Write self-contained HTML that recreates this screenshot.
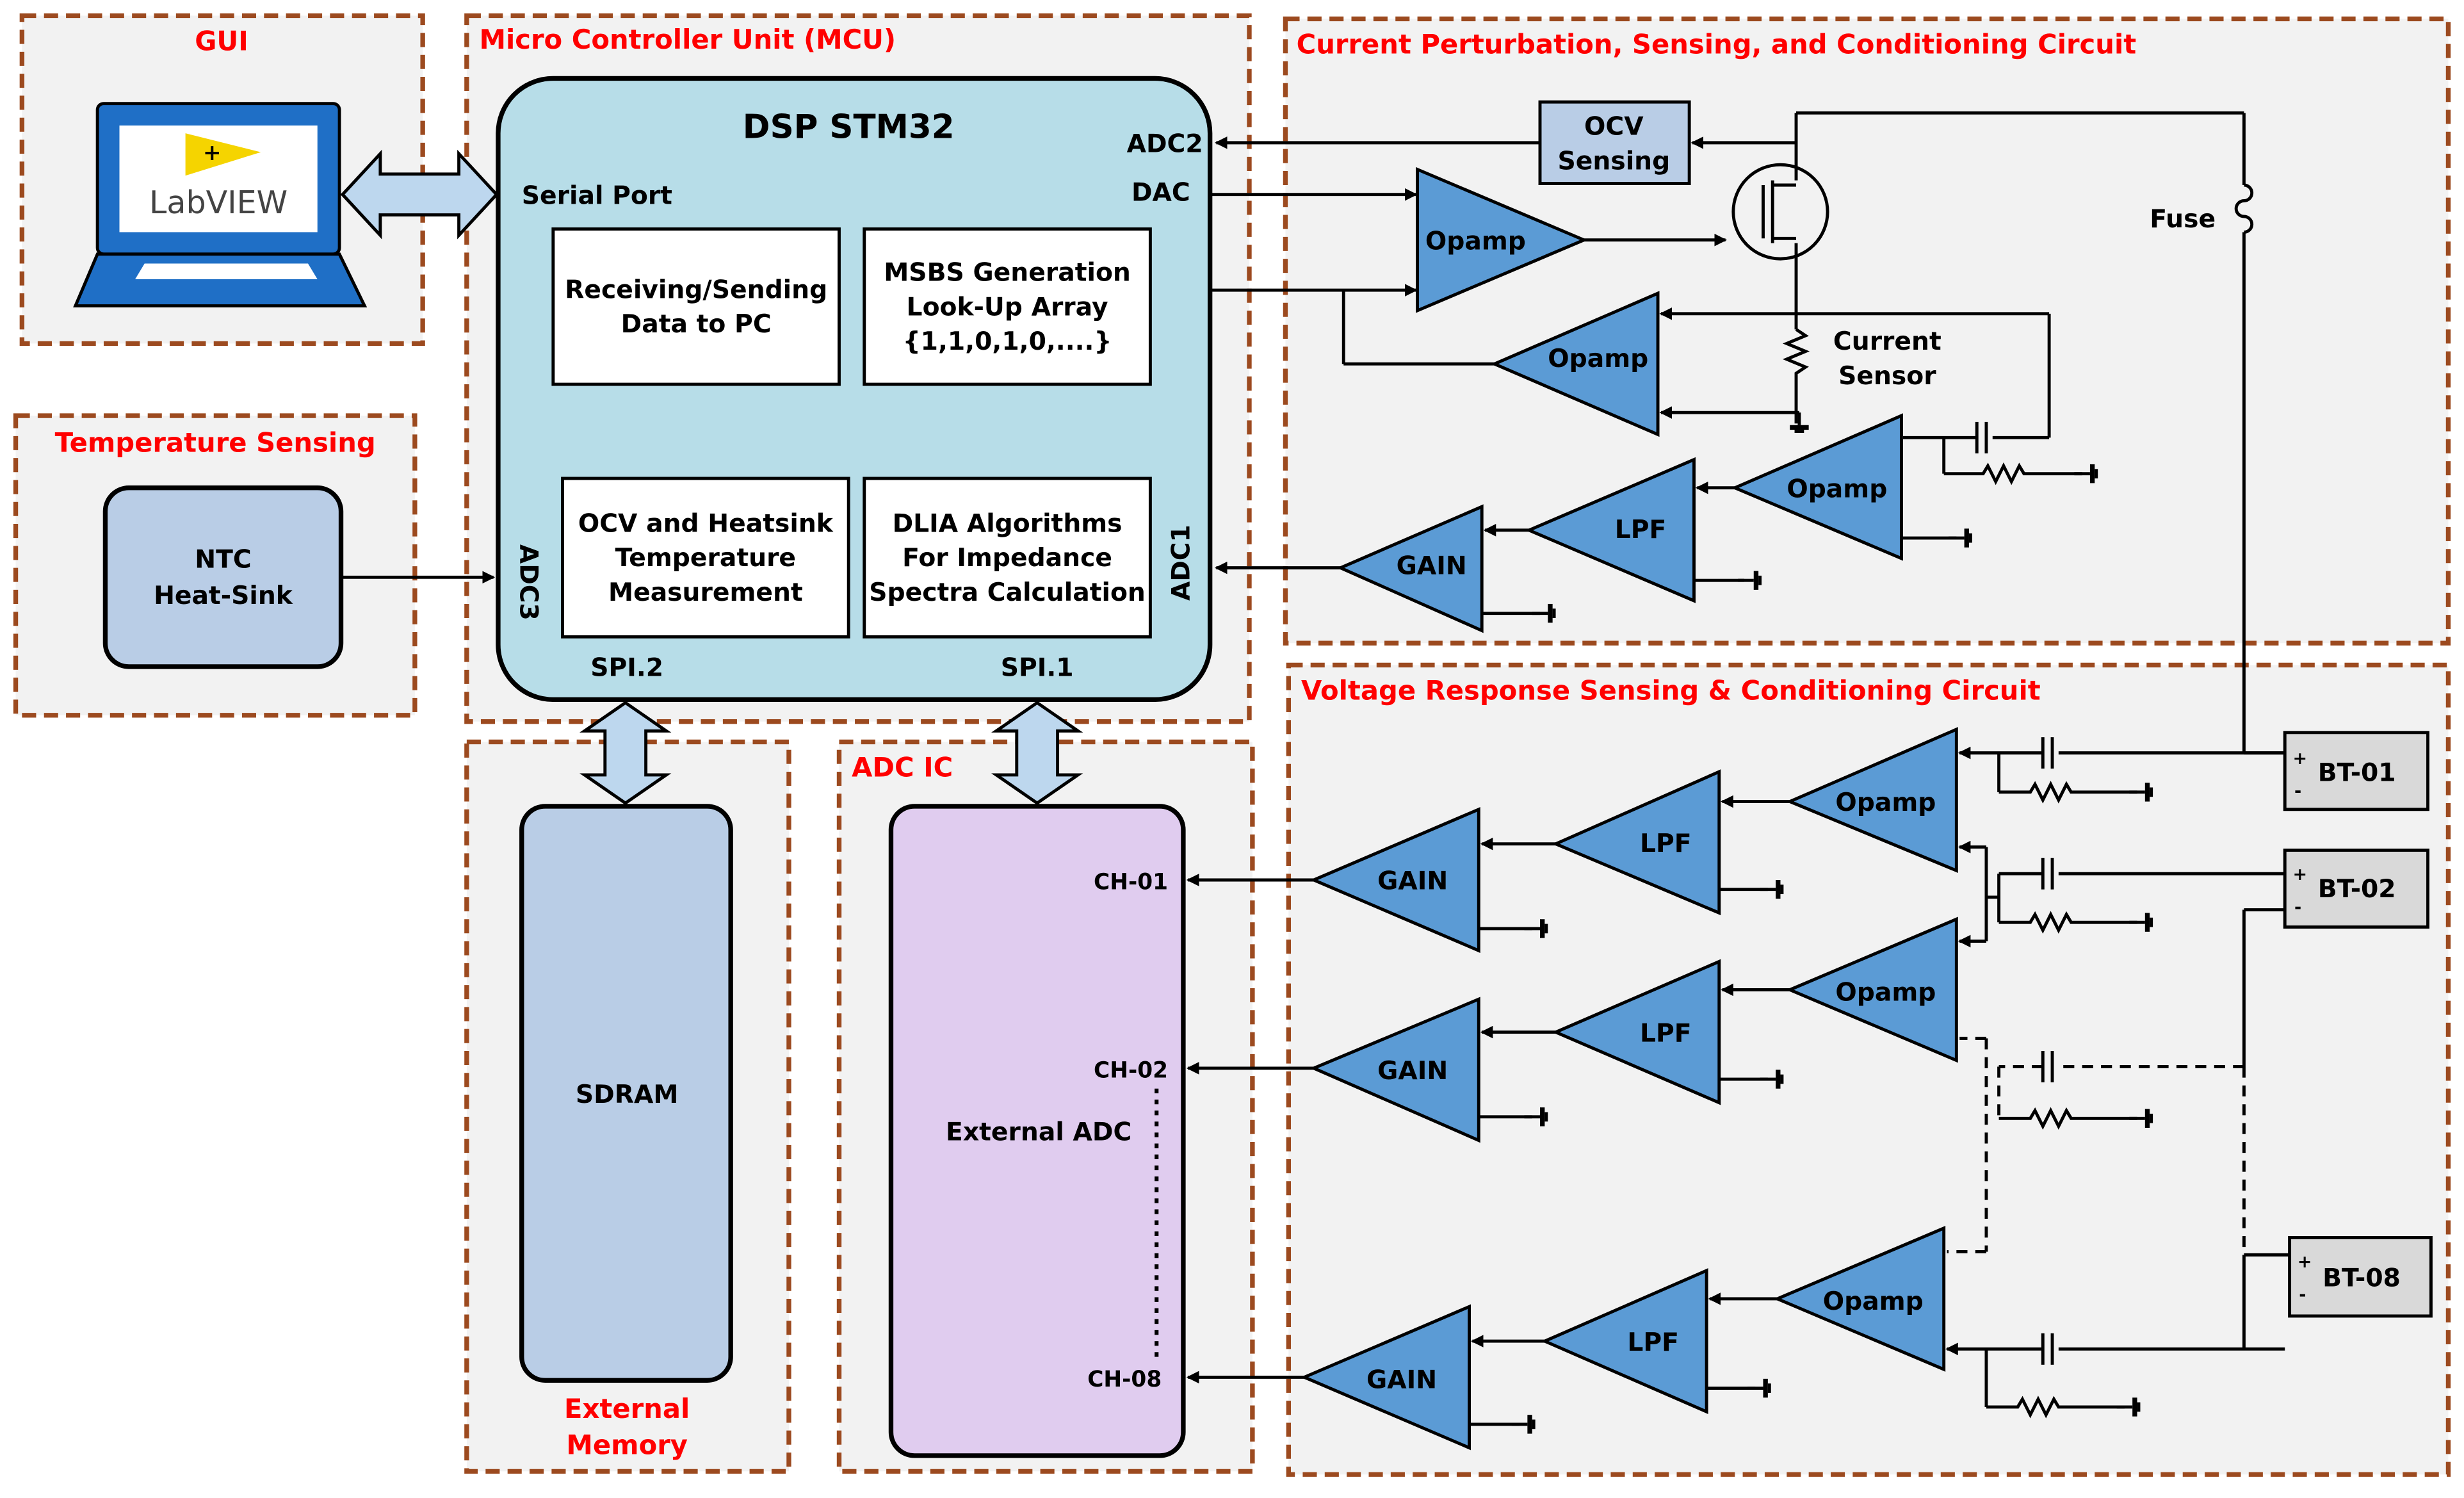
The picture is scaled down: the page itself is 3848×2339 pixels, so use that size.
<!DOCTYPE html>
<html><head><meta charset="utf-8"><style>
html,body{margin:0;padding:0;background:#fff}
svg{display:block}
text{font-family:"DejaVu Sans","Liberation Sans",sans-serif;font-weight:bold}
</style></head><body>
<svg width="3848" height="2339" viewBox="0 0 1568 955" preserveAspectRatio="none" xmlns="http://www.w3.org/2000/svg">
<defs>
<marker id="a" markerWidth="8" markerHeight="8" refX="7" refY="4" orient="auto" markerUnits="userSpaceOnUse"><path d="M0,0 L8,4 L0,8 z" fill="#000"/></marker>
<g id="gnd"><line x1="0" y1="0" x2="10" y2="0" stroke="#000" stroke-width="2"/><rect x="10" y="-6" width="3" height="12" fill="#000"/><rect x="13" y="-3" width="2" height="6" fill="#000"/></g>
<g id="gndv"><line x1="0" y1="0" x2="0" y2="8" stroke="#000" stroke-width="2"/><rect x="-6" y="8" width="12" height="3" fill="#000"/><rect x="-3" y="11" width="6" height="2" fill="#000"/></g>
</defs>
<rect width="1568" height="955" fill="#fff"/>
<g fill="#f2f2f2" stroke="#9c4a1f" stroke-width="3" stroke-dasharray="9,5">
<rect x="14" y="10" width="255" height="209"/>
<rect x="10" y="265" width="254" height="191"/>
<rect x="297" y="10" width="498" height="450"/>
<rect x="818" y="12" width="740" height="398"/>
<rect x="820" y="424" width="738" height="516"/>
<rect x="297" y="473" width="205" height="465"/>
<rect x="534" y="473" width="263" height="465"/>
</g>
<g fill="#ff0000" font-size="17">
<text x="141" y="32" text-anchor="middle">GUI</text>
<text x="137" y="288" text-anchor="middle">Temperature Sensing</text>
<text x="305" y="31">Micro Controller Unit (MCU)</text>
<text x="825" y="34">Current Perturbation, Sensing, and  Conditioning Circuit</text>
<text x="828" y="446">Voltage Response Sensing &amp; Conditioning Circuit</text>
<text x="542" y="495">ADC IC</text>
<text x="399" y="904" text-anchor="middle">External</text>
<text x="399" y="927" text-anchor="middle">Memory</text>
</g>
<rect x="62" y="66" width="154" height="96" rx="4" fill="#1f6fc6" stroke="#000" stroke-width="2"/>
<rect x="76" y="80" width="126" height="68" fill="#fff"/>
<path d="M118,85 L166,97 L118,112 z" fill="#f5d400"/>
<text x="135" y="102" font-size="14" text-anchor="middle">+</text>
<text x="139" y="136" font-size="20" text-anchor="middle" fill="#444" style="font-weight:normal">LabVIEW</text>
<path d="M62,162 L216,162 L232,195 L48,195 z" fill="#1f6fc6" stroke="#000" stroke-width="2"/>
<path d="M92,168 L196,168 L202,178 L86,178 z" fill="#fff"/>
<g fill="#bdd7ee" stroke="#000" stroke-width="2">
<path d="M218,124 L242,98 L242,111 L292,111 L292,98 L316,124 L292,150 L292,137 L242,137 L242,150 z"/>
<path d="M398,448 L424,466 L411,466 L411,494 L424,494 L398,512 L372,494 L385,494 L385,466 L372,466 z"/>
<path d="M660,448 L686,466 L673,466 L673,494 L686,494 L660,512 L634,494 L647,494 L647,466 L634,466 z"/>
</g>
<rect x="317" y="50" width="453" height="396" rx="35" fill="#b7dde8" stroke="#000" stroke-width="3"/>
<text x="540" y="88" font-size="21" text-anchor="middle">DSP STM32</text>
<g font-size="16">
<text x="332" y="130">Serial Port</text>
<text x="717" y="97">ADC2</text>
<text x="720" y="128">DAC</text>
<text x="399" y="431" text-anchor="middle">SPI.2</text>
<text x="660" y="431" text-anchor="middle">SPI.1</text>
<text transform="translate(331,347) rotate(90)">ADC3</text>
<text transform="translate(757,383) rotate(-90)">ADC1</text>
</g>
<g fill="#fff" stroke="#000" stroke-width="2">
<rect x="352" y="146" width="182" height="99"/>
<rect x="550" y="146" width="182" height="99"/>
<rect x="358" y="305" width="182" height="101"/>
<rect x="550" y="305" width="182" height="101"/>
</g>
<g font-size="16" text-anchor="middle">
<text x="443" y="190">Receiving/Sending</text><text x="443" y="212">Data to PC</text>
<text x="641" y="179">MSBS Generation</text><text x="641" y="201">Look-Up Array</text><text x="641" y="223">{1,1,0,1,0,....}</text>
<text x="449" y="339">OCV and Heatsink</text><text x="449" y="361">Temperature</text><text x="449" y="383">Measurement</text>
<text x="641" y="339">DLIA Algorithms</text><text x="641" y="361">For Impedance</text><text x="641" y="383">Spectra Calculation</text>
</g>
<rect x="67" y="311" width="150" height="114" rx="15" fill="#b9cde6" stroke="#000" stroke-width="3"/>
<text x="142" y="362" font-size="16" text-anchor="middle">NTC</text>
<text x="142" y="385" font-size="16" text-anchor="middle">Heat-Sink</text>
<line x1="217" y1="368" x2="314" y2="368" stroke="#000" stroke-width="2" marker-end="url(#a)"/>
<rect x="332" y="514" width="133" height="366" rx="15" fill="#b9cde6" stroke="#000" stroke-width="3"/>
<text x="399" y="703" font-size="16" text-anchor="middle">SDRAM</text>
<rect x="567" y="514" width="186" height="414" rx="15" fill="#e0ccef" stroke="#000" stroke-width="3"/>
<text x="661" y="727" font-size="16" text-anchor="middle">External ADC</text>
<g font-size="14">
<text x="696" y="567">CH-01</text><text x="696" y="687">CH-02</text><text x="692" y="884">CH-08</text>
</g>
<line x1="736" y1="694" x2="736" y2="866" stroke="#000" stroke-width="2.5" stroke-dasharray="3,4"/>
<rect x="980" y="65" width="95" height="52" fill="#b9cde6" stroke="#000" stroke-width="2"/>
<text x="1027" y="86" font-size="16" text-anchor="middle">OCV</text>
<text x="1027" y="108" font-size="16" text-anchor="middle">Sensing</text>
<g fill="#5b9bd5" stroke="#000" stroke-width="2">
<path d="M902,108 L902,198 L1008,153 z"/>
<path d="M1055,187 L1055,277 L951,232 z"/>
<path d="M1210,265 L1210,356 L1104,311 z"/>
<path d="M1078,293 L1078,383 L973,338 z"/>
<path d="M943,323 L943,402 L853,362 z"/>
<path d="M1245,465 L1245,555 L1139,511 z"/>
<path d="M1094,492 L1094,582 L990,538 z"/>
<path d="M941,516 L941,606 L836,561 z"/>
<path d="M1245,586 L1245,676 L1139,631 z"/>
<path d="M1094,613 L1094,703 L990,658 z"/>
<path d="M941,637 L941,727 L836,681 z"/>
<path d="M1237,783 L1237,873 L1131,828 z"/>
<path d="M1086,810 L1086,900 L983,855 z"/>
<path d="M935,833 L935,923 L830,878 z"/>
</g>
<g font-size="16" text-anchor="middle">
<text x="939" y="159">Opamp</text><text x="1017" y="234">Opamp</text><text x="1169" y="317">Opamp</text>
<text x="1044" y="343">LPF</text><text x="911" y="366">GAIN</text>
<text x="1200" y="517">Opamp</text><text x="1060" y="543">LPF</text><text x="899" y="567">GAIN</text>
<text x="1200" y="638">Opamp</text><text x="1060" y="664">LPF</text><text x="899" y="688">GAIN</text>
<text x="1192" y="835">Opamp</text><text x="1052" y="861">LPF</text><text x="892" y="885">GAIN</text>
<text x="1201" y="223">Current</text><text x="1201" y="245">Sensor</text>
<text x="1389" y="145">Fuse</text>
</g>
<g fill="none" stroke="#000" stroke-width="2">
<line x1="980" y1="91" x2="774" y2="91" marker-end="url(#a)"/>
<line x1="770" y1="124" x2="901" y2="124" marker-end="url(#a)"/>
<line x1="770" y1="185" x2="901" y2="185" marker-end="url(#a)"/>
<line x1="855" y1="185" x2="855" y2="232"/><line x1="855" y1="232" x2="951" y2="232"/>
<line x1="1008" y1="153" x2="1098" y2="153" marker-end="url(#a)"/>
<line x1="1143" y1="91" x2="1077" y2="91" marker-end="url(#a)"/>
<circle cx="1133" cy="135" r="30"/>
<line x1="1143" y1="72" x2="1143" y2="115"/><line x1="1143" y1="155" x2="1143" y2="210"/>
<line x1="1122" y1="118" x2="1122" y2="152"/><line x1="1128" y1="115" x2="1128" y2="155"/>
<line x1="1128" y1="118" x2="1143" y2="118"/><line x1="1128" y1="152" x2="1143" y2="152"/>
<line x1="1143" y1="72" x2="1428" y2="72"/><line x1="1428" y1="72" x2="1428" y2="118"/>
<path d="M1428,118 a5,5 0 0 1 0,10 a5,5 0 0 0 0,10 a5,5 0 0 1 0,10"/>
<line x1="1428" y1="148" x2="1428" y2="480"/>
<path d="M1143,210 l6,4 l-12,5 l12,5 l-12,5 l12,5 l-6,4 L1143,270"/>
<line x1="1304" y1="200" x2="1057" y2="200" marker-end="url(#a)"/>
<line x1="1304" y1="200" x2="1304" y2="279"/>
<line x1="1145" y1="263" x2="1057" y2="263" marker-end="url(#a)"/>
<line x1="1304" y1="279" x2="1268" y2="279"/><line x1="1264" y1="269" x2="1264" y2="289"/><line x1="1258" y1="269" x2="1258" y2="289"/>
<line x1="1258" y1="279" x2="1211" y2="279"/>
<line x1="1237" y1="279" x2="1237" y2="302"/>
<path d="M1237,302 L1262,302 l3,-5 l5,10 l5,-10 l5,10 l5,-10 l3,5 L1325,302"/>
<line x1="1104" y1="311" x2="1080" y2="311" marker-end="url(#a)"/>
<line x1="973" y1="338" x2="945" y2="338" marker-end="url(#a)"/>
<line x1="853" y1="362" x2="774" y2="362" marker-end="url(#a)"/>
<line x1="1210" y1="343" x2="1245" y2="343"/><line x1="1078" y1="370" x2="1110" y2="370"/><line x1="943" y1="391" x2="980" y2="391"/>
</g>
<use href="#gndv" x="1145" y="263"/>
<use href="#gnd" x="1320" y="302"/><use href="#gnd" x="1240" y="343"/><use href="#gnd" x="1106" y="370"/><use href="#gnd" x="975" y="391"/>
<g fill="none" stroke="#000" stroke-width="2">
<line x1="1428" y1="480" x2="1454" y2="480"/>
<line x1="1454" y1="480" x2="1310" y2="480"/><line x1="1306" y1="470" x2="1306" y2="490"/><line x1="1300" y1="470" x2="1300" y2="490"/>
<line x1="1300" y1="480" x2="1247" y2="480" marker-end="url(#a)"/>
<line x1="1272" y1="480" x2="1272" y2="505"/><path d="M1272,505 L1292,505 l3,-5 l5,10 l5,-10 l5,10 l5,-10 l3,5 L1360,505"/>
<line x1="1454" y1="557" x2="1310" y2="557"/><line x1="1306" y1="547" x2="1306" y2="567"/><line x1="1300" y1="547" x2="1300" y2="567"/>
<line x1="1300" y1="557" x2="1272" y2="557"/>
<line x1="1272" y1="557" x2="1272" y2="588"/><path d="M1272,588 L1292,588 l3,-5 l5,10 l5,-10 l5,10 l5,-10 l3,5 L1360,588"/>
<line x1="1264" y1="540" x2="1247" y2="540" marker-end="url(#a)"/><line x1="1264" y1="540" x2="1264" y2="572"/><line x1="1264" y1="572" x2="1272" y2="572"/>
<line x1="1264" y1="572" x2="1264" y2="600"/><line x1="1264" y1="600" x2="1247" y2="600" marker-end="url(#a)"/>
<line x1="1454" y1="580" x2="1428" y2="580"/><line x1="1428" y1="580" x2="1428" y2="680"/>
<line x1="1139" y1="511" x2="1096" y2="511" marker-end="url(#a)"/>
<line x1="990" y1="538" x2="943" y2="538" marker-end="url(#a)"/>
<line x1="836" y1="561" x2="756" y2="561" marker-end="url(#a)"/>
<line x1="1139" y1="631" x2="1096" y2="631" marker-end="url(#a)"/>
<line x1="990" y1="658" x2="943" y2="658" marker-end="url(#a)"/>
<line x1="836" y1="681" x2="756" y2="681" marker-end="url(#a)"/>
<line x1="1131" y1="828" x2="1088" y2="828" marker-end="url(#a)"/>
<line x1="983" y1="855" x2="937" y2="855" marker-end="url(#a)"/>
<line x1="830" y1="878" x2="756" y2="878" marker-end="url(#a)"/>
<line x1="1094" y1="567" x2="1125" y2="567"/><line x1="941" y1="592" x2="975" y2="592"/>
<line x1="1094" y1="688" x2="1125" y2="688"/><line x1="941" y1="712" x2="975" y2="712"/>
<line x1="1086" y1="885" x2="1117" y2="885"/><line x1="935" y1="908" x2="967" y2="908"/>
<line x1="1454" y1="860" x2="1310" y2="860" /><line x1="1428" y1="860" x2="1428" y2="800"/><line x1="1428" y1="800" x2="1457" y2="800"/>
<line x1="1306" y1="850" x2="1306" y2="870"/><line x1="1300" y1="850" x2="1300" y2="870"/>
<line x1="1300" y1="860" x2="1239" y2="860" marker-end="url(#a)"/>
<line x1="1264" y1="860" x2="1264" y2="897"/><path d="M1264,897 L1284,897 l3,-5 l5,10 l5,-10 l5,10 l5,-10 l3,5 L1352,897"/>
</g>
<g fill="none" stroke="#000" stroke-width="2" stroke-dasharray="7,5">
<line x1="1428" y1="680" x2="1428" y2="800"/>
<line x1="1428" y1="680" x2="1310" y2="680"/><line x1="1300" y1="680" x2="1272" y2="680"/>
<line x1="1272" y1="680" x2="1272" y2="713"/><line x1="1264" y1="662" x2="1264" y2="798"/>
<line x1="1264" y1="662" x2="1247" y2="662"/><line x1="1264" y1="798" x2="1239" y2="798"/>
</g>
<g stroke="#000" stroke-width="2"><line x1="1306" y1="670" x2="1306" y2="690"/><line x1="1300" y1="670" x2="1300" y2="690"/>
<path d="M1272,713 L1292,713 l3,-5 l5,10 l5,-10 l5,10 l5,-10 l3,5 L1360,713" fill="none"/></g>
<use href="#gnd" x="1355" y="505"/><use href="#gnd" x="1355" y="588"/><use href="#gnd" x="1355" y="713"/><use href="#gnd" x="1347" y="897"/>
<use href="#gnd" x="1120" y="567"/><use href="#gnd" x="970" y="592"/><use href="#gnd" x="1120" y="688"/><use href="#gnd" x="970" y="712"/>
<use href="#gnd" x="1112" y="885"/><use href="#gnd" x="962" y="908"/>
<g fill="#d9d9d9" stroke="#000" stroke-width="2">
<rect x="1454" y="467" width="91" height="49"/><rect x="1454" y="542" width="91" height="49"/><rect x="1457" y="789" width="90" height="50"/>
</g>
<g font-size="16"><text x="1475" y="498">BT-01</text><text x="1475" y="572">BT-02</text><text x="1478" y="820">BT-08</text></g>
<g font-size="11"><text x="1459" y="487">+</text><text x="1460" y="508">-</text><text x="1459" y="561">+</text><text x="1460" y="582">-</text><text x="1462" y="808">+</text><text x="1463" y="829">-</text></g>
</svg>
</body></html>
